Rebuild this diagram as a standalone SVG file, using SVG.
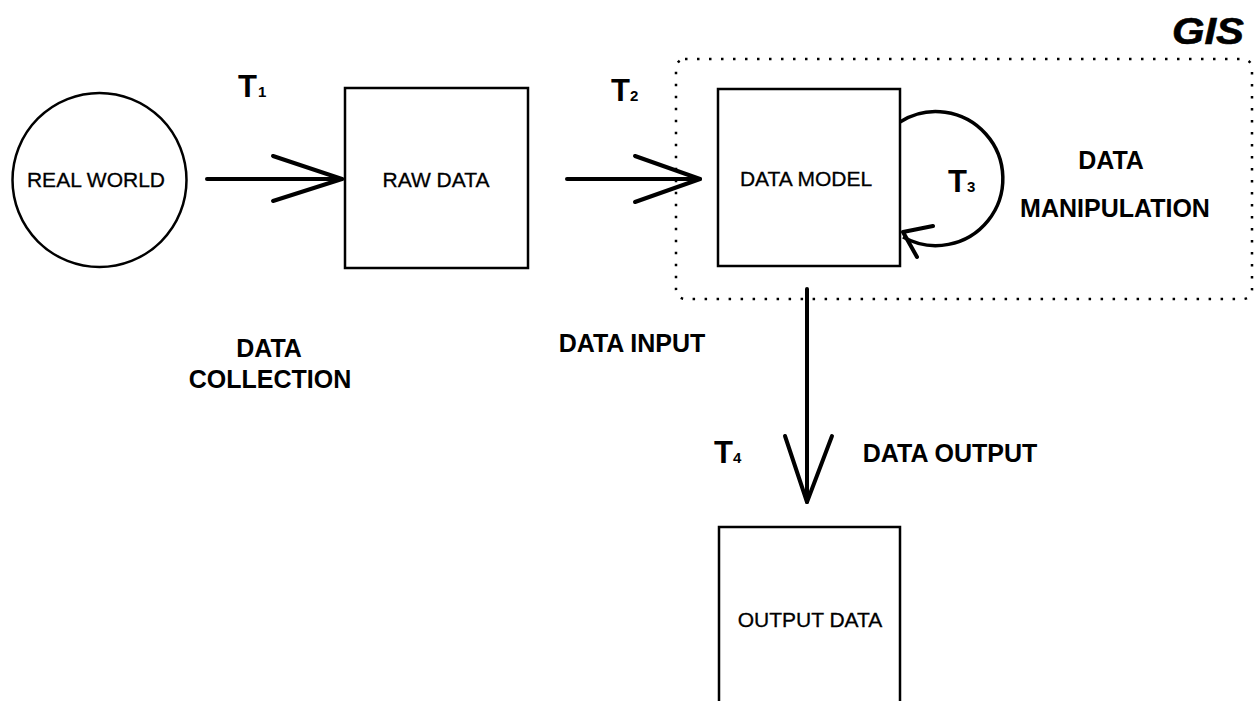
<svg xmlns="http://www.w3.org/2000/svg" width="1258" height="701" viewBox="0 0 1258 701">
  <style>
    .node { fill: #ffffff; stroke: #000; stroke-width: 2.5; }
    .lbl { font-family: "Liberation Sans", Arial, sans-serif; font-size: 21px; fill: #000; stroke: #000; stroke-width: 0.3; text-anchor: middle; }
    .bold { font-family: "Liberation Sans", Arial, sans-serif; font-weight: bold; font-size: 25px; fill: #000; text-anchor: middle; }
    .t { font-family: "Liberation Sans", Arial, sans-serif; font-weight: bold; font-size: 31px; fill: #000; }
    .sub { font-size: 15px; }
    .arrow { fill: none; stroke: #000; stroke-width: 4; stroke-linecap: round; stroke-linejoin: round; }
  </style>
  <rect width="1258" height="701" fill="#ffffff"/>

  <!-- GIS boundary -->
  <g id="gis">
    <rect x="676" y="59" width="576" height="240" rx="9" ry="9" fill="none" stroke="#000" stroke-width="2.5" stroke-dasharray="2.5 9.5"/>
    <text x="1172" y="44" font-family="Liberation Sans, Arial, sans-serif" font-weight="bold" font-style="italic" font-size="36" stroke="#000" stroke-width="0.6" textLength="72" lengthAdjust="spacingAndGlyphs">GIS</text>
  </g>

  <g id="real-world">
    <circle cx="99.5" cy="180" r="87" class="node" stroke-width="2"/>
    <text x="96" y="187" class="lbl">REAL WORLD</text>
  </g>

  <g id="raw-data">
    <rect x="345" y="88" width="183" height="180" class="node"/>
    <text x="436" y="187" class="lbl">RAW DATA</text>
  </g>

  <g id="data-model">
    <rect x="718" y="89" width="182" height="177" class="node"/>
    <text x="806" y="186" class="lbl">DATA MODEL</text>
  </g>

  <g id="output-data">
    <path d="M719,705 V527 H900 V705" class="node" fill="none"/>
    <text x="810" y="627" class="lbl">OUTPUT DATA</text>
  </g>

  <g id="connectors">
    <!-- T1: data collection -->
    <line x1="207" y1="179" x2="342" y2="179" class="arrow"/>
    <polyline points="273,156 342,179 273,201" class="arrow"/>
    <!-- T2: data input -->
    <line x1="567" y1="179" x2="700" y2="179" class="arrow"/>
    <polyline points="635,156 700,179 635,202" class="arrow"/>
    <!-- T3: data manipulation loop -->
    <path d="M900,122 A67,67 0 1,1 903,237" fill="none" stroke="#000" stroke-width="3.5"/>
    <polyline points="933,226 903,232 917,257" class="arrow" stroke-width="3.5"/>
    <!-- T4: data output -->
    <line x1="807" y1="289" x2="807" y2="502" class="arrow" stroke-width="3.5"/>
    <polyline points="785,436 807,502 832,436" class="arrow" stroke-width="3.5"/>
  </g>

  <g id="labels">
    <text x="238" y="97" class="t">T<tspan class="sub" dx="1">1</tspan></text>
    <text x="611" y="101" class="t">T<tspan class="sub" dx="0">2</tspan></text>
    <text x="948" y="192" class="t">T<tspan class="sub" dx="0">3</tspan></text>
    <text x="714" y="463" class="t">T<tspan class="sub" dx="0">4</tspan></text>
    <text x="269" y="357" class="bold">DATA</text>
    <text x="270" y="388" class="bold">COLLECTION</text>
    <text x="632" y="352" class="bold">DATA INPUT</text>
    <text x="1111" y="169" class="bold">DATA</text>
    <text x="1115" y="217" class="bold">MANIPULATION</text>
    <text x="950" y="462" class="bold">DATA OUTPUT</text>
  </g>
</svg>
